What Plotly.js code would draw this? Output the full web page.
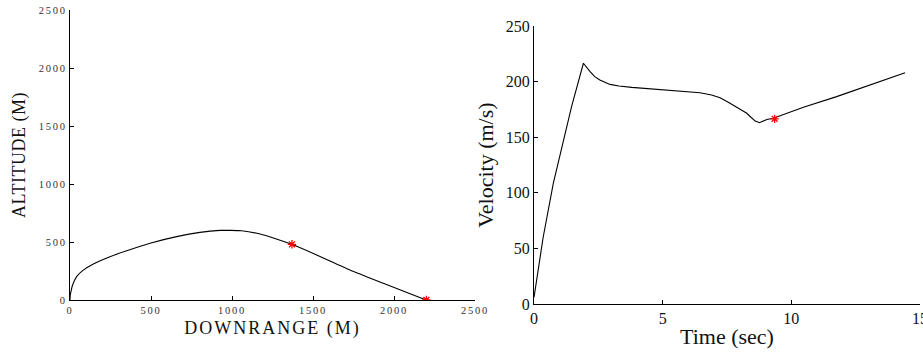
<!DOCTYPE html>
<html>
<head>
<meta charset="utf-8">
<script src="https://cdn.plot.ly/plotly-3.0.1.min.js"></script>
<style>
html,body{margin:0;padding:0;background:#fff;}
#chart{width:923px;height:354px;}
g.xtick text, g.ytick text {letter-spacing:1.8px;}
text.xtitle {letter-spacing:2px;}
text.ytitle {letter-spacing:0.5px;}
</style>
</head>
<body>
<div id="chart"></div>
<script>
// Trajectory: downrange (m) vs altitude (m)
const downrange = [0, 1, 6, 15, 41, 80, 144, 247, 350, 494, 658, 802, 926, 988, 1060, 1173, 1260, 1368, 1523, 1728, 1934, 2198];
const altitude  = [0, 35, 72, 125, 201, 255, 310, 373, 424, 489, 546, 583, 600, 600, 597, 569, 533, 480, 388, 259, 144, 0];
const trajMarkX = [1370, 2200];
const trajMarkY = [480, 0];

// Velocity (m/s) vs time (sec)
const time     = [0, 0.36, 0.75, 1.14, 1.46, 1.92, 2.05, 2.18, 2.36, 2.56, 2.95, 3.3, 3.8, 4.4, 5.0, 5.41, 6.0, 6.45, 6.9, 7.23, 7.55, 7.88, 8.1, 8.27, 8.45, 8.6, 8.76, 8.9, 9.05, 9.3, 10.47, 11.76, 13.58, 14.42];
const velocity = [6, 60.5, 108.5, 147.5, 177.5, 216.5, 212.5, 209, 204.5, 201.5, 197.5, 196, 194.8, 193.6, 192.7, 192, 191, 190, 188, 185.5, 181.5, 177, 174, 171.5, 167.5, 164.5, 163, 164.5, 166, 167, 177, 186.5, 201.5, 208];
const velMarkT = [9.35];
const velMarkV = [166.5];

const serif = 'Liberation Serif';

const traces = [
  {x: downrange, y: altitude, type: 'scatter', mode: 'lines', line: {color: '#000', width: 1.1, shape: 'spline', smoothing: 0.5}, xaxis: 'x', yaxis: 'y', hoverinfo: 'none'},
  {x: trajMarkX, y: trajMarkY, type: 'scatter', mode: 'markers', marker: {symbol: 'asterisk-open', size: 7, color: '#ff0000', line: {color: '#ff0000', width: 1.3}}, xaxis: 'x', yaxis: 'y', hoverinfo: 'none'},
  {x: time, y: velocity, type: 'scatter', mode: 'lines', line: {color: '#000', width: 1.1}, xaxis: 'x2', yaxis: 'y2', hoverinfo: 'none'},
  {x: velMarkT, y: velMarkV, type: 'scatter', mode: 'markers', marker: {symbol: 'asterisk-open', size: 7, color: '#ff0000', line: {color: '#ff0000', width: 1.3}}, xaxis: 'x2', yaxis: 'y2', hoverinfo: 'none'}
];

const baseAxis = {
  showline: true, linecolor: '#000', linewidth: 1, mirror: false,
  ticks: 'inside', ticklen: 4, tickwidth: 1, tickcolor: '#000',
  showgrid: false, zeroline: false, automargin: false, fixedrange: true,
  ticklabeloverflow: 'allow'
};

const layout = {
  width: 923, height: 354,
  margin: {l: 0, r: 0, t: 0, b: 0, pad: 0},
  paper_bgcolor: '#fff', plot_bgcolor: '#fff',
  showlegend: false,
  font: {family: serif, color: '#222'},
  xaxis: Object.assign({}, baseAxis, {
    domain: [70/923, 475/923], range: [0, 2500], tickvals: [0, 500, 1000, 1500, 2000, 2500],
    tickfont: {family: serif, size: 10.5, color: '#333'},
    title: {text: 'DOWNRANGE (M)', font: {family: serif, size: 18, color: '#111'}, standoff: 6},
    anchor: 'y'
  }),
  yaxis: Object.assign({}, baseAxis, {
    domain: [(354-300)/354, (354-10)/354], range: [0, 2500], tickvals: [0, 500, 1000, 1500, 2000, 2500],
    tickfont: {family: serif, size: 10.5, color: '#333'},
    title: {text: 'ALTITUDE (M)', font: {family: serif, size: 18, color: '#111'}, standoff: 8},
    anchor: 'x'
  }),
  xaxis2: Object.assign({}, baseAxis, {
    domain: [534/923, 920/923], range: [0, 15], tickvals: [0, 5, 10, 15],
    tickfont: {family: serif, size: 16, color: '#111'},
    title: {text: 'Time (sec)', font: {family: serif, size: 22, color: '#111'}, standoff: 2},
    anchor: 'y2'
  }),
  yaxis2: Object.assign({}, baseAxis, {
    domain: [(354-304)/354, (354-26)/354], range: [0, 250], tickvals: [0, 50, 100, 150, 200, 250],
    tickfont: {family: serif, size: 16, color: '#111'},
    title: {text: 'Velocity (m/s)', font: {family: serif, size: 22, color: '#111'}, standoff: 6},
    anchor: 'x2'
  })
};

Plotly.newPlot('chart', traces, layout, {staticPlot: true, displayModeBar: false});
</script>
</body>
</html>
